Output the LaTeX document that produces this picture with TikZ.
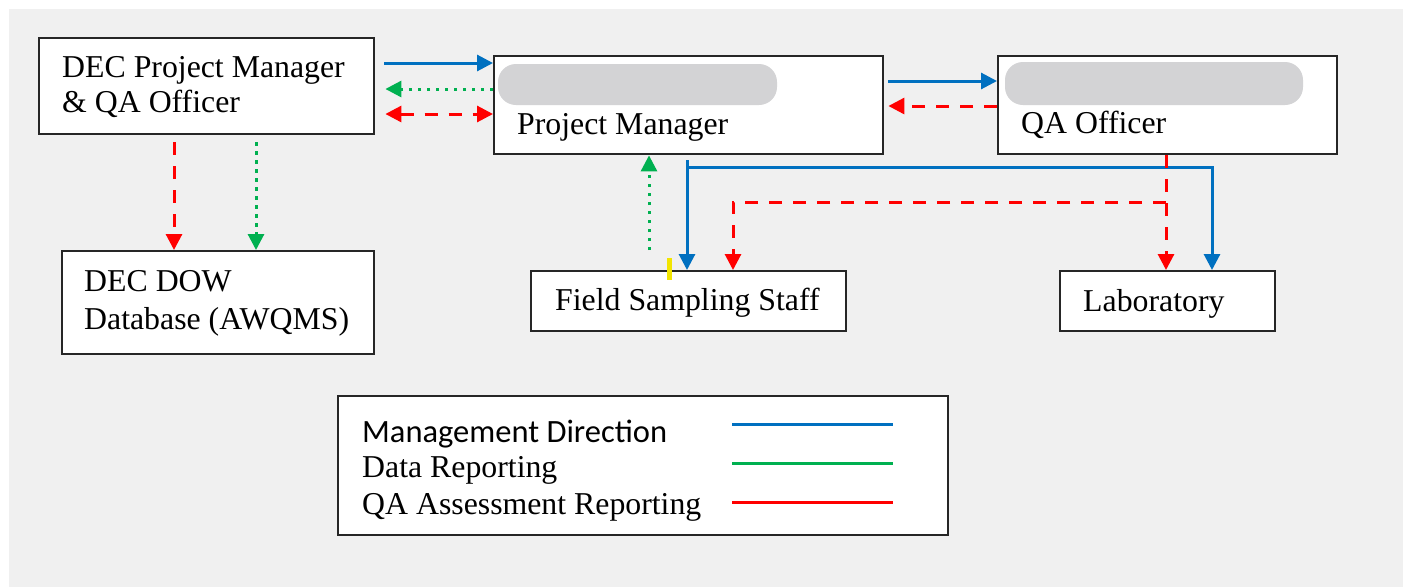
\documentclass[tikz,border=0pt]{standalone}
\usepackage{fontspec}
\setmainfont{Liberation Serif}
\newfontfamily\legsans{Carlito}
\usetikzlibrary{arrows.meta}
\definecolor{bgc}{HTML}{F0F0F0}
\definecolor{mblue}{HTML}{0070C0}
\definecolor{dgreen}{HTML}{00B050}
\definecolor{qred}{HTML}{FF0000}
\definecolor{blob}{HTML}{D3D3D5}
\definecolor{hl}{HTML}{F2E500}
\tikzset{
  box/.style={draw=black!85, line width=2.4pt, fill=white, anchor=north west, inner sep=0pt},
  txt/.style={anchor=base west, inner sep=0pt, font=\fontsize{31.8}{36}\selectfont},
  mgmt/.style={draw=mblue, line width=3pt},
  data/.style={draw=dgreen, line width=3pt, dash pattern=on 3.5pt off 5.5pt},
  qa/.style={draw=qred, line width=3pt, dash pattern=on 13pt off 11pt},
  >={Triangle[length=16pt,width=16pt]},
}
\begin{document}
\begin{tikzpicture}[x=1pt,y=-1pt]
\useasboundingbox (0,0) rectangle (1403,587);
\fill[bgc] (9,9) rectangle (1403,587);
% boxes
\node[box, minimum width=335pt, minimum height=96pt] (A) at (38,37) {};
\node[box, minimum width=389pt, minimum height=98pt] (B) at (493,55) {};
\node[box, minimum width=339pt, minimum height=98pt] (C) at (997,55) {};
\node[box, minimum width=312pt, minimum height=103pt] (D) at (61,250) {};
\node[box, minimum width=315pt, minimum height=60pt] (E) at (530,270) {};
\node[box, minimum width=215pt, minimum height=60pt] (F) at (1059,270) {};
\node[box, minimum width=610pt, minimum height=139pt] (L) at (337,395) {};
% redaction blobs
\fill[blob, rounded corners=18pt] (498,64) rectangle (777,105);
\fill[blob, rounded corners=18pt] (1005,62) rectangle (1303,105);
% texts
\node[txt] (tA1) at (62,77) {DEC Project Manager};
\node[txt] (tA2) at (62,112) {\& QA Officer};
\node[txt] (tB) at (517,134) {Project Manager};
\node[txt] (tC) at (1021,133) {QA Officer};
\node[txt] (tD1) at (84,291) {DEC DOW};
\node[txt] (tD2) at (84,329) {Database (AWQMS)};
\node[txt] (tE) at (555,310) {Field Sampling Staff};
\node[txt] (tF) at (1083,311) {Laboratory};
\node[txt, font=\legsans\fontsize{32.5}{36}\selectfont] (l1) at (362,442) {Management Direction};
\node[txt] (l2) at (362,477) {Data Reporting};
\node[txt] (l3) at (362,514) {QA Assessment Reporting};
% legend lines
\coordinate (m1) at (732,424); \coordinate (m2) at (893,424);
\coordinate (d1) at (732,463); \coordinate (d2) at (893,463);
\coordinate (q1) at (732,502); \coordinate (q2) at (893,502);
\draw[mgmt] (m1) -- (m2);
\draw[draw=dgreen, line width=3pt] (d1) -- (d2);
\draw[draw=qred, line width=3pt] (q1) -- (q2);
% top row arrows
\draw[mgmt,->,shorten <=9pt] (A.east |- 0,63) -- (B.west |- 0,63);
\draw[data,->] (B.west |- 0,89) -- ([xshift=10pt]A.east |- 0,89);
\draw[qa,<->,shorten <=10pt] (A.east |- 0,114) -- (B.west |- 0,114);
\draw[mgmt,->,shorten <=4pt] (B.east |- 0,81) -- (C.west |- 0,81);
\draw[qa,->,shorten >=4pt] (C.west |- 0,106) -- (B.east |- 0,106);
% A to D
\draw[qa,->,shorten <=7pt] (A.south -| 174,0) -- (D.north -| 174,0);
\draw[data,->,shorten <=7pt] (A.south -| 256,0) -- (D.north -| 256,0);
% E to B (data)
\draw[data,->,shorten <=20pt] (E.north -| 649,0) -- (B.south -| 649,0);
% blue management tree
\coordinate (bj) at (687,160);
\coordinate (bk) at (687,167);
\coordinate (br) at (1212,167);
\draw[mgmt,->] (bj) -- (E.north -| bj);
\draw[mgmt,->] (bk) -- (br) -- (F.north -| br);
% red QA tree
\coordinate (rj) at (1166,202);
\coordinate (rl) at (733,202);
\draw[qa,->] (C.south -| rj) -- (F.north -| rj);
\draw[qa,->] (rj) -- (rl) -- (E.north -| rl);
% yellow highlight mark
\fill[hl] (667,258) rectangle (672,280);
\end{tikzpicture}
\end{document}
